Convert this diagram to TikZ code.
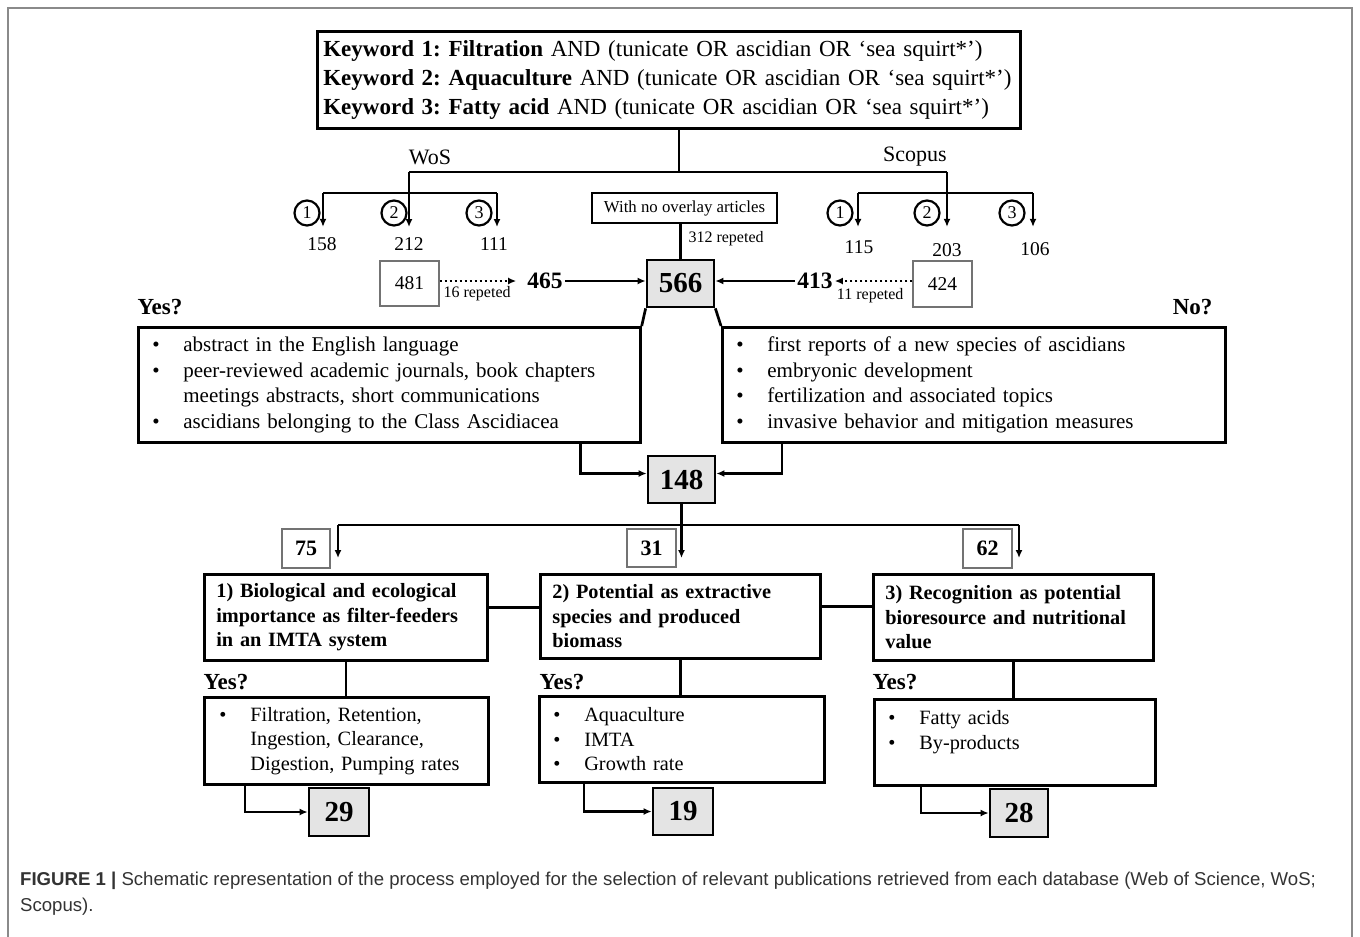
\documentclass[tikz,border=0pt]{standalone}
\usepackage{fontspec}
\setmainfont{Liberation Serif}
\setsansfont{Liberation Sans}
\usetikzlibrary{arrows.meta}
\usetikzlibrary{shapes}
\usetikzlibrary{positioning}
\usepackage{xcolor}
\frenchspacing

\definecolor{countgray}{HTML}{E4E4E4}
\definecolor{framegray}{HTML}{8A8A8A}
\definecolor{capgray}{HTML}{333333}
\newcommand{\fsz}[2]{\fontsize{#1}{#2}\selectfont}
\newcommand{\bul}{\makebox[31pt][l]{\textbullet}}
\newcommand{\ind}{\hspace*{31pt}}

\tikzset{
  listbox/.style={draw, line width=2.7pt, anchor=north west, align=left, inner ysep=0pt},
  countbox/.style={draw, line width=2.7pt, fill=countgray, inner sep=0pt, font=\fsz{29}{31}\bfseries},
  subbox/.style={draw=black!55, line width=1.4pt, inner sep=0pt},
  conn/.style={line width=2.7pt},
  arr/.style={line width=2.7pt, -{Latex[length=8pt,width=7pt]}},
  dotarr/.style={line width=2.4pt, dash pattern=on 2.2pt off 2.8pt, -{Latex[length=8pt,width=7pt]}},
  ring/.style={circle, draw, line width=2.2pt, inner sep=0pt, minimum size=25pt, font=\fsz{18}{20}},
  hits/.style={font=\fsz{19.5}{21}},
  bignum/.style={font=\fsz{23.5}{25}\bfseries, inner sep=2pt},
  small/.style={font=\fsz{16}{18}},
  yesno/.style={font=\fsz{23}{25}\bfseries},
}

\begin{document}
\begin{tikzpicture}[x=1pt,y=-1pt]
\useasboundingbox (0,0) rectangle (1360,937);
\draw[framegray, line width=1.2pt] (8,937) -- (8,8) -- (1352,8) -- (1352,937);

% search strings
\node[listbox, inner xsep=6pt, text width=691pt, minimum height=97pt, font=\fsz{23}{29}] (kw) at (316,30)
  {\mbox{\textbf{Keyword 1: Filtration} AND (tunicate OR ascidian OR `sea squirt*')}\\
   \mbox{\textbf{Keyword 2: Aquaculture} AND (tunicate OR ascidian OR `sea squirt*')}\\
   \mbox{\textbf{Keyword 3: Fatty acid} AND (tunicate OR ascidian OR `sea squirt*')}};

\coordinate (split) at (679,172);
\coordinate (wosj) at (409,172);
\coordinate (scoj) at (947,172);
\draw[conn] (kw.south -| split) -- (split);
\draw[conn] (wosj) -- (scoj);
\node[font=\fsz{22}{24}] (wos) at (430,157) {WoS};
\node[font=\fsz{22}{24}] (scopus) at (915,157) {Scopus};

% WoS hits
\coordinate (wl) at (323,193);
\coordinate (wr) at (497,193);
\node[ring] (wc1) at (307,213) {1};
\node[ring] (wc2) at (394,213) {2};
\node[ring] (wc3) at (479,213) {3};
\node[hits] (n158) at (322,244) {158};
\node[hits] (n212) at (409,244) {212};
\node[hits] (n111) at (494,244) {111};
\draw[conn] (wl) -- (wr);
\draw[arr, shorten >=7pt] (wl) -- (wl |- n158.north);
\draw[arr, shorten >=7pt] (wosj) -- (n212);
\draw[arr, shorten >=7pt] (wr) -- (wr |- n111.north);

% Scopus hits
\coordinate (sl) at (858,193);
\coordinate (sr) at (1033,193);
\node[ring] (sc1) at (840,213) {1};
\node[ring] (sc2) at (927,213) {2};
\node[ring] (sc3) at (1012,213) {3};
\node[hits] (n115) at (859,247) {115};
\node[hits] (n203) at (947,250) {203};
\node[hits] (n106) at (1035,249) {106};
\draw[conn] (sl) -- (sr);
\draw[arr, shorten >=10pt] (sl) -- (sl |- n115.north);
\draw[arr, shorten >=13pt] (scoj) -- (n203);
\draw[arr, shorten >=12pt] (sr) -- (sr |- n106.north);

% merging
\node[draw, line width=2.2pt, minimum width=185pt, minimum height=30pt, inner sep=0pt, font=\fsz{16.8}{18}] (noov) at (684.5,208) {With no overlay articles};
\node[countbox, minimum width=67pt, minimum height=47pt] (n566) at (680.5,283.5) {566};
\draw[conn] (noov.south -| n566.north) -- (n566.north);
\node[small, anchor=west] (rep312) at (685,239) {312 repeted};

\node[subbox, minimum width=59pt, minimum height=45pt, hits] (b481) at (409.5,283.5) {481};
\node[bignum] (n465) at (545,281) {465};
\draw[dotarr, shorten >=9pt] (b481.east |- n465.west) -- (n465.west);
\node[small, anchor=west] (rep16) at (440,294) {16 repeted};
\draw[arr] (n465.east) -- (n465.east -| n566.west);

\node[subbox, minimum width=59pt, minimum height=46pt, hits] (b424) at (942.5,284) {424};
\node[bignum] (n413) at (815,281) {413};
\draw[dotarr] (b424.west |- n413.east) -- (n413.east);
\node[small, anchor=east] (rep11) at (907,296) {11 repeted};
\draw[arr] (n413.west) -- (n413.west -| n566.east);

% screening
\node[yesno, anchor=west] (yes0) at (134,307) {Yes?};
\node[yesno, anchor=east] (no0) at (1216,307) {No?};
\node[listbox, inner xsep=14pt, text width=474pt, minimum height=115pt, font=\fsz{21}{25.5}] (yesbox) at (137,326)
  {\bul abstract in the English language\\
   \bul peer-reviewed academic journals, book chapters\\
   \ind meetings abstracts, short communications\\
   \bul ascidians belonging to the Class Ascidiacea};
\node[listbox, inner xsep=14pt, text width=475pt, minimum height=115pt, font=\fsz{21}{25.5}] (nobox) at (721,326)
  {\bul first reports of a new species of ascidians\\
   \bul embryonic development\\
   \bul fertilization\ and associated topics\\
   \bul invasive behavior and mitigation measures};
\draw[conn] (n566.south west) -- (yesbox.north east);
\draw[conn] (n566.south east) -- (nobox.north west);

\node[countbox, minimum width=67pt, minimum height=47pt] (n148) at (681.5,479.5) {148};
\draw[arr] ([xshift=-61pt]yesbox.south east) |- ([yshift=6pt]n148.west);
\draw[arr] ([xshift=61pt]nobox.south west) |- ([yshift=6pt]n148.east);

% topics
\coordinate (fork) at (681.5,525);
\coordinate (f1) at (338,525);
\coordinate (f3) at (1019,525);
\draw[conn] (n148.south) -- (fork);
\draw[conn] (f1) -- (f3);

\node[listbox, inner xsep=12pt, text width=259pt, minimum height=86pt, font=\fsz{20.3}{24.5}\bfseries] (cat1) at (203,573)
  {1) Biological and ecological\\ importance as filter-feeders\\ in an IMTA system};
\node[listbox, inner xsep=12pt, text width=256pt, minimum height=84pt, font=\fsz{20.3}{24.5}\bfseries] (cat2) at (539,573)
  {2) Potential as extractive\\ species and produced\\ biomass};
\node[listbox, inner xsep=12pt, text width=256pt, minimum height=86pt, font=\fsz{20.3}{24.5}\bfseries] (cat3) at (872,573)
  {3) Recognition as potential\\ bioresource and nutritional\\ value};

\draw[arr, shorten >=15pt] (f1) -- (f1 |- cat1.north);
\draw[arr, shorten >=15pt] (fork) -- (fork |- cat2.north);
\draw[arr, shorten >=15pt] (f3) -- (f3 |- cat3.north);
\node[subbox, minimum width=48pt, minimum height=39pt, font=\fsz{22}{24}\bfseries] (b75) at (306,548.5) {75};
\node[subbox, minimum width=49pt, minimum height=38pt, font=\fsz{22}{24}\bfseries] (b31) at (651.5,548) {31};
\node[subbox, minimum width=49pt, minimum height=39pt, font=\fsz{22}{24}\bfseries] (b62) at (987.5,548.5) {62};

\draw[conn] ([yshift=10pt]cat1.east) -- ([yshift=10pt]cat1.east -| cat2.west);
\draw[conn] ([yshift=10pt]cat2.east) -- ([yshift=10pt]cat2.east -| cat3.west);

\node[yesno, anchor=west] (yes1) at (200,682) {Yes?};
\node[yesno, anchor=west] (yes2) at (536,682) {Yes?};
\node[yesno, anchor=west] (yes3) at (869,682) {Yes?};

\node[listbox, inner xsep=15pt, text width=254pt, minimum height=87pt, font=\fsz{20.3}{24.5}] (low1) at (203,696)
  {\bul Filtration, Retention,\\ \ind Ingestion, Clearance,\\ \ind Digestion, Pumping rates};
\node[listbox, inner xsep=14pt, text width=257pt, minimum height=86pt, font=\fsz{20.3}{24.5}] (low2) at (538,695)
  {\bul Aquaculture\\ \bul IMTA\\ \bul Growth rate};
\node[listbox, inner xsep=14pt, text width=253pt, minimum height=86pt, font=\fsz{20.3}{24.5}] (low3) at (873,698)
  {\bul Fatty acids\\ \bul By-products\\ \mbox{}};

\draw[conn] (cat1.south) -- (cat1.south |- low1.north);
\draw[conn] (cat2.south) -- (cat2.south |- low2.north);
\draw[conn] (cat3.south) -- (cat3.south |- low3.north);

% selected papers
\node[countbox, minimum width=60pt, minimum height=48pt] (r29) at (339,812) {29};
\node[countbox, minimum width=60pt, minimum height=47pt] (r19) at (683,811.5) {19};
\node[countbox, minimum width=58pt, minimum height=48pt] (r28) at (1019,813) {28};
\draw[arr] ([xshift=42pt]low1.south west) |- (r29.west);
\draw[arr] ([xshift=46pt]low2.south west) |- (r19.west);
\draw[arr] ([xshift=48pt]low3.south west) |- (r28.west);

\node[anchor=base west, align=left, inner sep=0pt, text=capgray, font=\fsz{18.6}{26}\sffamily] (caption) at (20,911)
  {\textbf{FIGURE 1} \textbf{|} Schematic representation of the process employed for the selection of relevant publications retrieved from each database (Web of Science, WoS;\\
   Scopus).};
\end{tikzpicture}
\end{document}
